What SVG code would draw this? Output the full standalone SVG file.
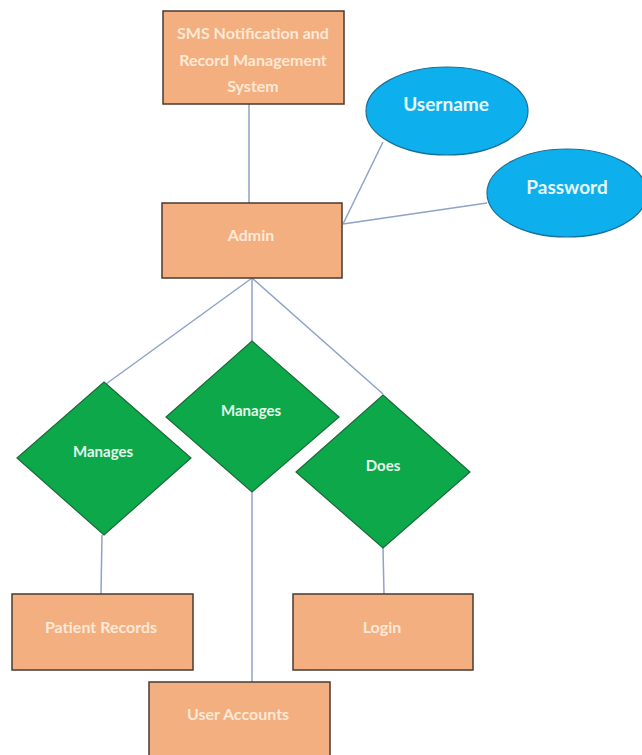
<svg xmlns="http://www.w3.org/2000/svg" width="642" height="755" viewBox="0 0 642 755">
<style>
.box{fill:#f4af80;stroke:#4a3a30;stroke-width:1.5}
.dia{fill:#0da84a;stroke:#1a6b38;stroke-width:1.2}
.ell{fill:#0db0ec;stroke:#1a6f9a;stroke-width:1.2}
.bt{font-family:Lato,"Open Sans","Liberation Sans",sans-serif;font-weight:bold;font-size:16px;fill:#fde9d6;text-anchor:middle;dominant-baseline:central}
.dt{font-family:Lato,"Open Sans","Liberation Sans",sans-serif;font-weight:bold;font-size:15px;fill:#e6f7ea;text-anchor:middle;dominant-baseline:central}
.et{font-family:Lato,"Open Sans","Liberation Sans",sans-serif;font-weight:bold;font-size:19px;fill:#e8f8ff;text-anchor:middle;dominant-baseline:central}
.ln{stroke:#8ea3c8;stroke-width:1.5;fill:none}
</style>
<rect width="642" height="755" fill="#ffffff"/>
<g id="connectors">
<line class="ln" x1="249" y1="104" x2="249" y2="203"/>
<line class="ln" x1="383" y1="142" x2="343" y2="224"/>
<line class="ln" x1="487" y1="203" x2="343" y2="224"/>
<line class="ln" x1="252" y1="278" x2="106" y2="384"/>
<line class="ln" x1="252" y1="278" x2="252" y2="341"/>
<line class="ln" x1="252" y1="278" x2="383" y2="394"/>
<line class="ln" x1="102" y1="535" x2="101" y2="594"/>
<line class="ln" x1="252" y1="492" x2="252" y2="682"/>
<line class="ln" x1="383" y1="548" x2="384" y2="594"/>
</g>
<g id="system">
<rect class="box" x="163" y="11" width="181" height="93"/>
<text class="bt" x="253" y="32">SMS Notification and</text>
<text class="bt" x="253" y="59">Record Management</text>
<text class="bt" x="253" y="85">System</text>
</g>
<g id="admin">
<rect class="box" x="162" y="203" width="180" height="75"/>
<text class="bt" x="251" y="234">Admin</text>
</g>
<g id="username">
<ellipse class="ell" cx="447" cy="111" rx="81" ry="44"/>
<text class="et" x="446" y="103">Username</text>
</g>
<g id="password">
<ellipse class="ell" cx="567" cy="193" rx="80" ry="44"/>
<text class="et" x="567" y="186">Password</text>
</g>
<g id="manages-left">
<polygon class="dia" points="104,382 191,458 104,535 17,458"/>
<text class="dt" x="103" y="451">Manages</text>
</g>
<g id="manages-mid">
<polygon class="dia" points="252,341 339,417 252,492 166,417"/>
<text class="dt" x="251" y="410">Manages</text>
</g>
<g id="does">
<polygon class="dia" points="383,395 470,472 383,548 296,472"/>
<text class="dt" x="383" y="465">Does</text>
</g>
<g id="patient-records">
<rect class="box" x="12" y="594" width="181" height="76"/>
<text class="bt" x="101" y="626">Patient Records</text>
</g>
<g id="login">
<rect class="box" x="293" y="594" width="180" height="76"/>
<text class="bt" x="382" y="626">Login</text>
</g>
<g id="user-accounts">
<rect class="box" x="149" y="682" width="181" height="80"/>
<text class="bt" x="238" y="713">User Accounts</text>
</g>
</svg>
